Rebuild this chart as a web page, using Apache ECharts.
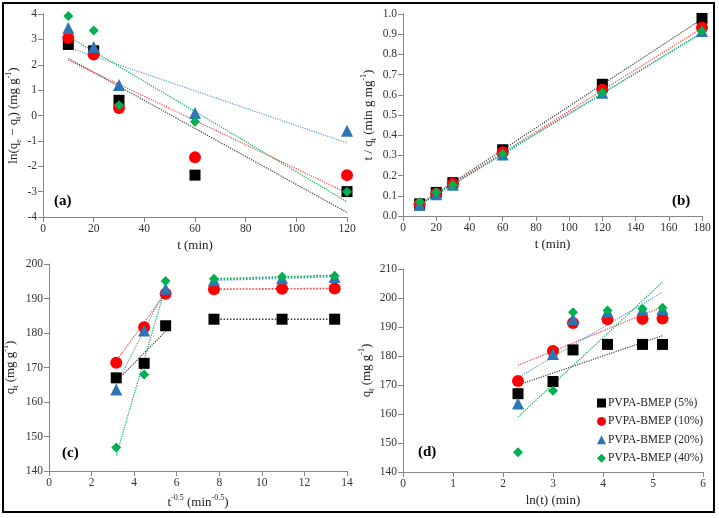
<!DOCTYPE html>
<html><head><meta charset="utf-8">
<script src="https://cdn.jsdelivr.net/npm/echarts@6/dist/echarts.min.js"></script>
<style>html,body{margin:0;padding:0;background:#fff}#c{width:719px;height:518px}</style>
</head><body><div id="c"></div>
<script>
// ---------- DATA ----------
const seriesNames = ['PVPA-BMEP (5%)','PVPA-BMEP (10%)','PVPA-BMEP (20%)','PVPA-BMEP (40%)'];

// (a) pseudo-first-order
const tA = [10,20,30,60,120];
const a5  = [2.8,2.55,0.6,-2.35,-3.0];
const a10 = [3.05,2.4,0.3,-1.65,-2.35];
const a20 = [3.45,2.7,1.2,0.1,-0.6];
const a40 = [3.92,3.35,0.4,-0.25,-3.0];
const trendAx = [10,120];
const trendA5  = [2.25,-3.82];
const trendA10 = [2.18,-3.05];
const trendA20 = [2.68,-1.08];
const trendA40 = [3.12,-3.40];

// (b) pseudo-second-order
const tB = [10,20,30,60,120,180];
const b5  = [0.060,0.117,0.165,0.328,0.652,0.978];
const b10 = [0.058,0.110,0.160,0.315,0.625,0.933];
const b20 = [0.055,0.108,0.155,0.305,0.610,0.916];
const b40 = [0.068,0.118,0.153,0.308,0.610,0.915];
const trendBx = [10,180];
const trendB5  = [0.058,0.975];
const trendB10 = [0.057,0.930];
const trendB20 = [0.054,0.905];
const trendB40 = [0.058,0.908];

// (c) intraparticle diffusion, (d) Elovich
const xC = [3.16,4.47,5.48,7.75,10.95,13.42];
const xD = [2.30,3.00,3.40,4.09,4.79,5.19];
const q5  = [167.0,171.2,182.1,184.0,184.0,184.0];
const q10 = [171.4,181.7,191.4,192.7,192.8,192.9];
const q20 = [163.6,180.7,192.8,195.3,195.9,196.2];
const q40 = [146.8,168.0,195.1,195.7,196.3,196.6];
const trendC1x = [3.16,5.48];
const trendC1_5  = [166.0,180.5];
const trendC1_10 = [171.9,191.6];
const trendC1_20 = [165.0,193.0];
const trendC1_40 = [144.5,193.5];
const trendC2x = [7.75,13.42];
const trendC2_5  = [184.0,184.0];
const trendC2_10 = [192.7,192.9];
const trendC2_20 = [195.3,196.3];
const trendC2_40 = [195.7,196.7];
const trendDx = [2.30,5.19];
const trendD5  = [170.0,187.0];
const trendD10 = [176.8,197.0];
const trendD20 = [172.5,202.0];
const trendD40 = [159.0,205.5];

// ---------- STYLE ----------
const FONT = 'Liberation Serif';
const COLORS = ['#000000','#ff0000','#2e75b6','#00b050'];
const LINE_COLORS = ['#404040','#ff4040','#5b9bd5','#00b050'];
const SYMBOLS = ['rect','circle','triangle','diamond'];
const SIZES = [11,12,12,10];

const zip = (xs, ys) => xs.map((x,i)=>[x,ys[i]]);

const rich = {
  a:{fontFamily:FONT,fontSize:13,color:'#222',lineHeight:18,verticalAlign:'middle'},
  sup:{fontFamily:FONT,fontSize:8,color:'#222',lineHeight:10,verticalAlign:'top'},
  sub:{fontFamily:FONT,fontSize:8,color:'#222',lineHeight:10,verticalAlign:'bottom'}
};

function axis(idx,min,max,interval,name,gap,fmt){
  return {
    gridIndex: idx, type:'value', min, max, interval,
    name, nameLocation:'middle', nameGap:gap,
    nameTextStyle:{fontFamily:FONT,fontSize:13,color:'#222',rich},
    axisLine:{show:true,onZero:false,lineStyle:{color:'#868686',width:1}},
    axisTick:{show:true,inside:false,length:5,lineStyle:{color:'#868686'}},
    splitLine:{show:false},
    axisLabel:{fontFamily:FONT,fontSize:11.5,color:'#333',margin:6,formatter:fmt}
  };
}

const grids = [
  {left:43, top:14, width:304, height:203},
  {left:403, top:14, width:299, height:202},
  {left:49, top:264, width:298, height:207},
  {left:403, top:269, width:300, height:203}
];

const xAxes = [
  axis(0,0,120,20,'t (min)',22),
  axis(1,0,180,20,'t (min)',22),
  axis(2,0,14,2,'{a|t}{sup|-0.5}{a| (min}{sup|-0.5}{a|)}',23),
  axis(3,0,6,1,'ln(t) (min)',22)
];
const yAxes = [
  axis(0,-4,4,1,'{a|ln(q}{sub|e}{a| − q}{sub|t}{a|) (mg g}{sup|-1}{a|)}',20),
  axis(1,0,1,0.1,'{a|t / q}{sub|t}{a| (min g mg}{sup|-1}{a|)}',25,v=>v.toFixed(1)),
  axis(2,140,200,10,'{a|q}{sub|t}{a| (mg g}{sup|-1}{a|)}',29),
  axis(3,140,210,10,'{a|q}{sub|t}{a| (mg g}{sup|-1}{a|)}',25)
];

const series = [];
function trend(g,k,xs,ys,w){
  series.push({type:'line',xAxisIndex:g,yAxisIndex:g,data:zip(xs,ys),showSymbol:false,silent:true,
    z:2,lineStyle:{color:LINE_COLORS[k],width:w||1.2,type:'dotted'},emphasis:{disabled:true}});
}
function pts(g,k,xs,ys){
  series.push({type:'scatter',name:seriesNames[k],xAxisIndex:g,yAxisIndex:g,data:zip(xs,ys),
    symbol:SYMBOLS[k],symbolSize:SIZES[k],z:5,itemStyle:{color:COLORS[k],opacity:1}});
}
// (a)
[trendA5,trendA10,trendA20,trendA40].forEach((ys,k)=>trend(0,k,trendAx,ys));
[a5,a10,a20,a40].forEach((ys,k)=>pts(0,k,tA,ys));
// (b)
[trendB5,trendB10,trendB20,trendB40].forEach((ys,k)=>trend(1,k,trendBx,ys));
[b5,b10,b20,b40].forEach((ys,k)=>pts(1,k,tB,ys));
// (c)
[trendC1_5,trendC1_10,trendC1_20,trendC1_40].forEach((ys,k)=>trend(2,k,trendC1x,ys));
[trendC2_5,trendC2_10,trendC2_20,trendC2_40].forEach((ys,k)=>trend(2,k,trendC2x,ys,1.6));
[q5,q10,q20,q40].forEach((ys,k)=>pts(2,k,xC,ys));
// (d)
[trendD5,trendD10,trendD20,trendD40].forEach((ys,k)=>trend(3,k,trendDx,ys));
[q5,q10,q20,q40].forEach((ys,k)=>pts(3,k,xD,ys));

const panelLabel = (txt,x,y)=>({type:'text',left:x,top:y,z:10,
  style:{text:txt,font:'bold 15px "Liberation Serif"',fill:'#000'}});

const chart = echarts.init(document.getElementById('c'),null,{renderer:'canvas'});
chart.setOption({
  animation:false,
  backgroundColor:'#fff',
  grid:grids,
  xAxis:xAxes,
  yAxis:yAxes,
  legend:{
    orient:'vertical', left:592, top:390, itemWidth:9, itemHeight:9, itemGap:2.4,
    selectedMode:false,
    textStyle:{fontFamily:FONT,fontSize:11.5,color:'#222',lineHeight:16,padding:[0,0,0,-3]},
    data:seriesNames.map((n,k)=>({name:n,icon:SYMBOLS[k],itemStyle:{color:COLORS[k]}}))
  },
  graphic:[
    {type:'rect',shape:{x:3,y:3,width:711,height:509},style:{fill:null,stroke:'#000',lineWidth:2},z:0},
    panelLabel('(a)',54,194),
    panelLabel('(b)',672,194),
    panelLabel('(c)',62,446),
    panelLabel('(d)',418,445)
  ],
  series
});
</script></body></html>
